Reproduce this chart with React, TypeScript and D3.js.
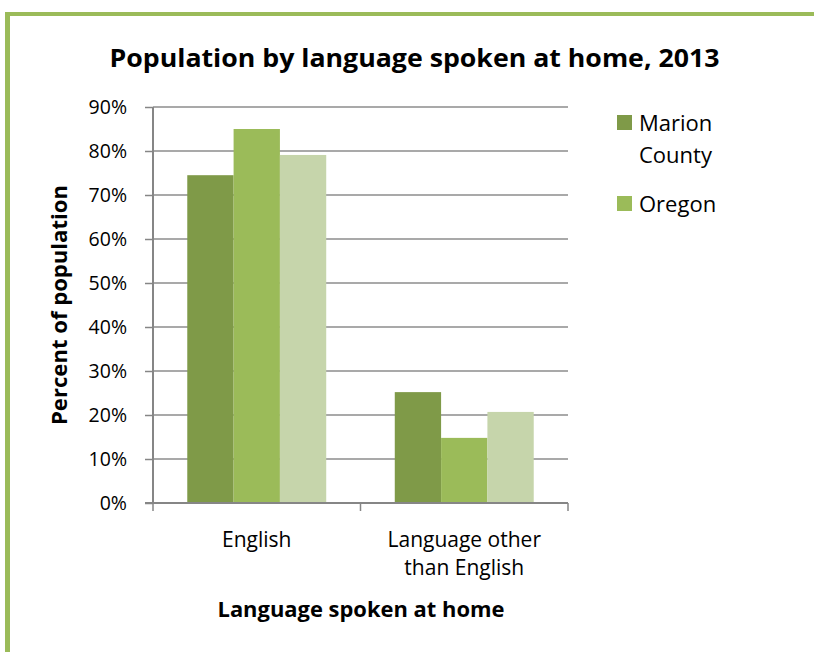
import React, { useEffect, useRef } from 'react';
import * as d3 from 'd3';

const categories = ['English', 'Language other than English'];
const categoryLines = [['English'], ['Language other', 'than English']];
const seriesNames = ['Marion County', 'Oregon', 'United States'];
const marionValues = [74.5, 25.2];
const oregonValues = [85.0, 14.8];
const usValues = [79.1, 20.7];
const yTicks = [0, 10, 20, 30, 40, 50, 60, 70, 80, 90];
const colors = ['#7F9A48', '#9BBB59', '#C6D5AB'];
const legendNames = ['Marion County', 'Oregon'];

const FONT = "'Open Sans', 'Liberation Sans', sans-serif";

const App = () => {
  const ref = useRef<SVGSVGElement>(null);

  useEffect(() => {
    const svg = d3.select(ref.current);
    svg.selectAll('*').remove();

    // frame (only top and left show up)
    svg.append('rect').attr('x', 5).attr('y', 12).attr('width', 809).attr('height', 4).attr('fill', '#9BBB59');
    svg.append('rect').attr('x', 5).attr('y', 12).attr('width', 5).attr('height', 640).attr('fill', '#9BBB59');

    const left = 153, right = 568, top = 107, bottom = 503;

    const y = d3.scaleLinear().domain([0, 90]).range([bottom, top]);
    const x0 = d3.scaleBand<string>().domain(categories).range([left, right]).padding(0);
    const x1 = d3
      .scaleBand<string>()
      .domain(seriesNames)
      .range([0, x0.bandwidth()])
      .paddingInner(0)
      .paddingOuter(0.74);

    // gridlines
    svg
      .append('g')
      .selectAll('line')
      .data(yTicks.slice(1))
      .enter()
      .append('line')
      .attr('x1', left)
      .attr('x2', right)
      .attr('y1', (d) => y(d))
      .attr('y2', (d) => y(d))
      .attr('stroke', '#8C8C8C')
      .attr('stroke-width', 1.5);

    // bars
    const series = [marionValues, oregonValues, usValues];
    const g = svg.append('g');
    categories.forEach((c, ci) => {
      series.forEach((vals, si) => {
        g.append('rect')
          .attr('x', (x0(c) as number) + (x1(seriesNames[si]) as number))
          .attr('y', y(vals[ci]))
          .attr('width', x1.bandwidth())
          .attr('height', bottom - y(vals[ci]))
          .attr('fill', colors[si]);
      });
    });

    // y axis
    const yAxis = svg
      .append('g')
      .attr('transform', `translate(${left},0)`)
      .call(
        d3
          .axisLeft(y)
          .tickValues(yTicks)
          .tickSize(8)
          .tickPadding(18)
          .tickFormat((d) => `${d}%`)
      );
    yAxis.select('.domain').attr('stroke', '#868686').attr('stroke-width', 2).attr('d', `M0,${top}V${bottom}`);
    yAxis.selectAll('.tick line').attr('stroke', '#868686').attr('stroke-width', 1.5);
    yAxis
      .selectAll('.tick text')
      .attr('font-family', FONT)
      .attr('font-size', 19.5)
      .attr('fill', '#000')
      .attr('dy', '0.35em');

    // x axis
    const xAxisG = svg.append('g');
    xAxisG
      .append('line')
      .attr('x1', left - 8)
      .attr('x2', right)
      .attr('y1', bottom)
      .attr('y2', bottom)
      .attr('stroke', '#868686')
      .attr('stroke-width', 2);
    const xTickPos = [left, ...categories.map((c) => (x0(c) as number) + x0.bandwidth())];
    xAxisG
      .selectAll('line.tk')
      .data(xTickPos)
      .enter()
      .append('line')
      .attr('class', 'tk')
      .attr('x1', (d) => d)
      .attr('x2', (d) => d)
      .attr('y1', bottom)
      .attr('y2', bottom + 8)
      .attr('stroke', '#868686')
      .attr('stroke-width', 1.5);

    categories.forEach((c, ci) => {
      const cx = (x0(c) as number) + x0.bandwidth() / 2;
      const t = svg
        .append('text')
        .attr('x', cx)
        .attr('y', 547)
        .attr('text-anchor', 'middle')
        .attr('font-family', FONT)
        .attr('font-size', 21);
      categoryLines[ci].forEach((line, li) => {
        t.append('tspan').attr('x', cx).attr('dy', li === 0 ? 0 : 28).text(line);
      });
    });

    // titles
    svg
      .append('text')
      .attr('x', 414.5)
      .attr('y', 67)
      .attr('text-anchor', 'middle')
      .attr('font-family', FONT)
      .attr('font-weight', 'bold')
      .attr('font-size', 25)
      .attr('textLength', 610)
      .attr('lengthAdjust', 'spacingAndGlyphs')
      .text('Population by language spoken at home, 2013');

    svg
      .append('text')
      .attr('x', 361)
      .attr('y', 617)
      .attr('text-anchor', 'middle')
      .attr('font-family', FONT)
      .attr('font-weight', 'bold')
      .attr('font-size', 21)
      .attr('textLength', 287)
      .attr('lengthAdjust', 'spacingAndGlyphs')
      .text('Language spoken at home');

    svg
      .append('text')
      .attr('transform', 'translate(67,305) rotate(-90)')
      .attr('text-anchor', 'middle')
      .attr('font-family', FONT)
      .attr('font-weight', 'bold')
      .attr('font-size', 21)
      .attr('textLength', 240)
      .attr('lengthAdjust', 'spacingAndGlyphs')
      .text('Percent of population');

    // legend
    const legend = svg.append('g');
    const legendRows = [
      { y: 115, lines: ['Marion', 'County'] },
      { y: 196, lines: ['Oregon'] },
    ];
    legendNames.forEach((name, i) => {
      const row = legendRows[i];
      legend
        .append('rect')
        .attr('x', 617)
        .attr('y', row.y)
        .attr('width', 15)
        .attr('height', 15)
        .attr('fill', colors[seriesNames.indexOf(name)]);
      const t = legend
        .append('text')
        .attr('x', 639)
        .attr('y', row.y + 16)
        .attr('font-family', FONT)
        .attr('font-size', 22);
      row.lines.forEach((line, li) => {
        t.append('tspan').attr('x', 639).attr('dy', li === 0 ? 0 : 32).text(line);
      });
    });
  }, []);

  return (
    <svg
      ref={ref}
      width={814}
      height={652}
      style={{ position: 'absolute', left: 0, top: 0, background: '#fff' }}
    ></svg>
  );
};

export default App;
